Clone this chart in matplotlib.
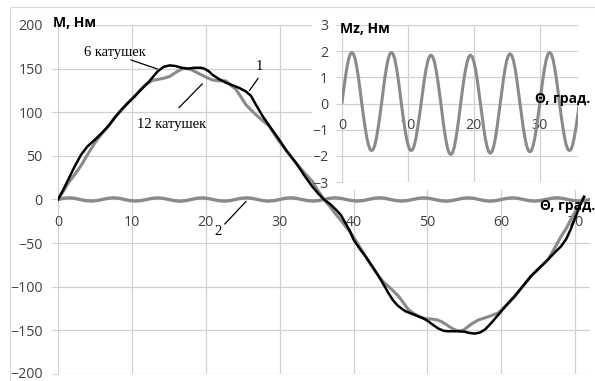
import matplotlib
matplotlib.use("Agg")
import matplotlib.pyplot as plt
from matplotlib.patches import Rectangle

# ---------------- data ----------------
# curve "6 катушек" (black), main chart
x6 = [0, 0.7, 1.4, 2.2, 3.1, 4.0, 5.0, 5.9, 6.8, 7.7, 8.6, 9.5, 10.4, 11.3, 12.2, 12.9,
      13.5, 14.3, 15.1, 15.9, 16.7, 17.6, 18.5, 19.3, 19.8, 20.4, 20.9, 21.8, 22.7, 23.6,
      24.5, 25.4, 26.1, 26.9, 27.7, 28.8, 29.9, 31.0, 32.2, 33.3, 34.4, 35.2, 36.0,
      36.8, 37.6, 38.3, 38.9, 39.5, 40.0, 40.8, 41.6, 42.5, 43.4, 44.1, 44.7, 45.3, 45.9,
      46.5, 47.0, 47.9, 48.8, 49.5, 50.1, 50.8, 51.5, 52.2, 52.8, 53.5, 54.2, 55.0, 55.7,
      56.4, 57.1, 57.8, 58.7, 59.6, 60.7, 61.8, 62.9, 64.0, 65.2, 66.3, 67.2, 68.1, 68.8,
      69.4, 70.0, 70.6, 71.2]
y6 = [0, 11, 23, 37, 51, 61, 68.6, 76, 84, 94, 103, 111, 118.5, 126.5, 134, 141,
      147, 152, 153.7, 153, 151, 150, 151, 151, 150, 147, 143, 138, 134, 131,
      128, 124, 119, 107, 95.5, 82, 69, 55, 42, 28, 15, 7, 0,
      -5, -11.5, -18, -27, -36, -46, -56, -65, -76, -88, -98, -107, -115, -121,
      -125, -128, -131, -134, -136.5, -139.5, -144, -148, -150.5, -151, -151, -151, -151.5, -153,
      -153.7, -152.5, -149, -141, -132, -121, -111, -99.5, -88, -78, -69, -61, -53.5, -45,
      -34, -21, -7.7, 3]

# curve "12 катушек" (grey), main chart
x12 = [0, 0.7, 1.4, 2.3, 3.2, 4.1, 5.0, 5.9, 6.8, 7.7, 8.6, 9.5, 10.4, 11.3, 11.9, 12.8,
       13.5, 14.3, 15.1, 16.0, 16.9, 17.5, 18.0, 18.8, 19.6, 20.2, 20.9, 21.8, 22.7, 23.4,
       24.1, 24.8, 25.4, 26.3, 27.2, 27.9, 28.6, 29.2, 29.9, 31.0, 32.2, 33.3, 34.4, 35.2,
       36.0, 36.8, 37.6, 38.3, 38.9, 39.5, 40.0, 40.8, 41.6, 42.5, 43.4, 44.1, 44.7, 45.4,
       46.1, 46.8, 47.4, 48.1, 48.8, 49.7, 50.6, 51.3, 51.9, 52.5, 53.0, 53.6, 54.2, 54.6,
       55.0, 55.9, 56.9, 58.2, 59.6, 60.7, 61.8, 62.9, 64.0, 65.2, 66.3, 67.2, 68.1, 68.8,
       69.4, 70.0, 70.6, 71.2]
y12 = [0, 9, 19, 29, 40, 53, 65, 75, 84, 94, 103, 111, 118.5, 127, 132, 136.5,
       137.6, 139, 141, 146, 150, 150, 149, 145.5, 142, 139.5, 137, 136, 136, 131,
       126, 117, 109, 101, 94, 89, 84, 76, 67, 55, 42, 31, 21, 10,
       0, -8, -17, -24, -30.6, -37, -43, -54, -65, -77, -88, -95, -99.4, -105,
       -111, -119, -126, -130.5, -134, -136.5, -137, -138, -140, -143, -146, -149, -150.5, -150.5,
       -149, -143, -138, -134.5, -130, -121, -111, -99.5, -88, -78, -69, -56, -42, -33,
       -23, -14, -5, 3]

# curve 2: torque ripple shown on the main chart (step 0.75 deg)
ripple_x = [i * 0.75 for i in range(97)]
ripple_y = [0, 1.38, 1.95, 1.38, 0, -1.28, -1.8, -1.28, 0, 1.38, 1.95, 1.38,
            0, -1.28, -1.8, -1.28, 0, 1.31, 1.85, 1.31, 0, -1.38, -1.95, -1.38,
            0, 1.31, 1.85, 1.31, 0, -1.35, -1.9, -1.35, 0, 1.35, 1.9, 1.35,
            0, -1.31, -1.85, -1.31, 0, 1.38, 1.95, 1.38, 0, -1.28, -1.8, -1.28,
            0, 1.38, 1.95, 1.38, 0, -1.28, -1.8, -1.28, 0, 1.38, 1.95, 1.38,
            0, -1.28, -1.8, -1.28, 0, 1.31, 1.85, 1.31, 0, -1.38, -1.95, -1.38,
            0, 1.31, 1.85, 1.31, 0, -1.35, -1.9, -1.35, 0, 1.35, 1.9, 1.35,
            0, -1.31, -1.85, -1.31, 0, 1.38, 1.95, 1.38, 0, -1.28, -1.8, -1.28, 0]

# inset: Mz, Нм (step 0.25 deg)
mz_x = [i * 0.25 for i in range(145)]
mz_y = [0.05, 0.51, 0.98, 1.38, 1.70, 1.89, 1.95, 1.89, 1.70, 1.38, 0.98, 0.51,
        0, -0.47, -0.9, -1.28, -1.57, -1.75, -1.8, -1.75, -1.57, -1.28, -0.9, -0.47,
        0, 0.51, 0.98, 1.38, 1.70, 1.89, 1.95, 1.89, 1.70, 1.38, 0.98, 0.51,
        0, -0.47, -0.9, -1.28, -1.57, -1.75, -1.8, -1.75, -1.57, -1.28, -0.9, -0.47,
        0, 0.48, 0.93, 1.31, 1.61, 1.79, 1.85, 1.79, 1.61, 1.31, 0.93, 0.48,
        0, -0.51, -0.98, -1.38, -1.70, -1.89, -1.95, -1.89, -1.70, -1.38, -0.98, -0.51,
        0, 0.48, 0.93, 1.31, 1.61, 1.79, 1.85, 1.79, 1.61, 1.31, 0.93, 0.48,
        0, -0.49, -0.95, -1.35, -1.65, -1.84, -1.9, -1.84, -1.65, -1.35, -0.95, -0.49,
        0, 0.49, 0.95, 1.35, 1.65, 1.84, 1.9, 1.84, 1.65, 1.35, 0.95, 0.49,
        0, -0.48, -0.93, -1.31, -1.61, -1.79, -1.85, -1.79, -1.61, -1.31, -0.93, -0.48,
        0, 0.51, 0.98, 1.38, 1.70, 1.89, 1.95, 1.89, 1.70, 1.38, 0.98, 0.51,
        0, -0.47, -0.9, -1.28, -1.57, -1.75, -1.8, -1.75, -1.57, -1.28, -0.9, -0.47,
        0]

main_xticks = [0, 10, 20, 30, 40, 50, 60, 70]
main_yticks = [-200, -150, -100, -50, 0, 50, 100, 150, 200]
inset_xticks = [0, 10, 20, 30]
inset_yticks = [-3, -2, -1, 0, 1, 2, 3]

# ---------------- style ----------------
W, H = 595, 381
GRID = '#d0d0d0'
GREY = '#8a8a8a'
TXT = '#404040'
TICKFONT = 'Open Sans'
SERIF = 'Liberation Serif'
FS = 10.2

plt.rcParams['font.family'] = [TICKFONT, 'DejaVu Sans']

fig = plt.figure(figsize=(W / 100, H / 100), dpi=100)

def fx(px):
    return px / W

def fy(py):
    return 1 - py / H

# main axes
ax = fig.add_axes([fx(58), fy(374), fx(590) - fx(58), fy(25) - fy(374)])
ax.set_xlim(0, 72)
ax.set_ylim(-200, 200)
ax.set_xticks(main_xticks)
ax.set_yticks(main_yticks)
ax.grid(True, color=GRID, lw=0.9)
ax.set_axisbelow(True)
for s in ax.spines.values():
    s.set_visible(False)
ax.spines['bottom'].set_position(('data', 0))
ax.tick_params(axis='y', length=4, width=0.8, color=GRID, pad=7, labelsize=FS, labelcolor=TXT)
ax.tick_params(axis='x', length=0, pad=11, labelsize=FS, labelcolor=TXT)
# keep the lowest label inside the picture
ax.get_yticklabels()[0].set_verticalalignment('center')

# white box behind the inset
ax.add_patch(Rectangle((fx(312), fy(190)), fx(592) - fx(312), fy(12) - fy(190),
                       transform=fig.transFigure, facecolor='white', edgecolor='none',
                       zorder=1, clip_on=False))

ax.plot(ripple_x, ripple_y, color=GREY, lw=2.4, zorder=3)
ax.plot(x12, y12, color=GREY, lw=2.2, zorder=3, solid_joinstyle='round')
ax.plot(x6, y6, color='black', lw=1.8, zorder=4, solid_joinstyle='round')

# annotations
ann = dict(color='black', lw=0.9)
ax.text(7.7, 168, '6 катушек', family=SERIF, fontsize=10.5, ha='center', va='center')
ax.annotate('', xy=(13.8, 148.6), xytext=(9.5, 161), arrowprops=dict(arrowstyle='-', **ann))
ax.text(15.4, 85.7, '12 катушек', family=SERIF, fontsize=10.5, ha='center', va='center')
ax.annotate('', xy=(19.8, 134.9), xytext=(16.1, 102.9), arrowprops=dict(arrowstyle='-', **ann))
ax.text(27.3, 152, '1', family=SERIF, fontsize=10.5, ha='center', va='center')
ax.annotate('', xy=(25.7, 122.3), xytext=(27.3, 141.5), arrowprops=dict(arrowstyle='-', **ann))
ax.text(21.7, -36.6, '2', family=SERIF, fontsize=10.5, ha='center', va='center')
ax.annotate('', xy=(25.7, 0), xytext=(22.3, -30.5), arrowprops=dict(arrowstyle='-', **ann))

# inset axes
ai = fig.add_axes([fx(342), fy(182), fx(578) - fx(342), fy(25) - fy(182)])
ai.set_facecolor('none')
ai.set_xlim(0, 35.8)
ai.set_ylim(-3, 3)
ai.set_xticks(inset_xticks)
ai.set_yticks(inset_yticks)
ai.grid(True, color=GRID, lw=0.9)
ai.set_axisbelow(True)
for s in ai.spines.values():
    s.set_visible(False)
ai.spines['bottom'].set_position(('data', 0))
ai.tick_params(axis='y', length=4.5, width=0.8, color=GRID, pad=5.5, labelsize=FS, labelcolor=TXT)
ai.tick_params(axis='x', length=0, pad=10.5, labelsize=FS, labelcolor=TXT)
ai.plot(mz_x, mz_y, color=GREY, lw=2.2)

# axis titles
fig.text(fx(53), fy(27), 'M, Нм', fontsize=10, fontweight='bold', color='black', va='baseline')
fig.text(fx(340), fy(33), 'Mz, Нм', fontsize=10, fontweight='bold', color='black', va='baseline')
fig.text(fx(540), fy(210), 'Θ, град.', fontsize=10, fontweight='bold', color='black', va='baseline')
fig.text(fx(535), fy(103), 'Θ, град.', fontsize=10, fontweight='bold', color='black', va='baseline')

# outer chart border
fig.add_artist(Rectangle((fx(10), -0.1), 1.2, fy(7) + 0.1, transform=fig.transFigure,
                         fill=False, edgecolor='#d9d9d9', lw=0.8))

fig.savefig('out.png', dpi=100)
